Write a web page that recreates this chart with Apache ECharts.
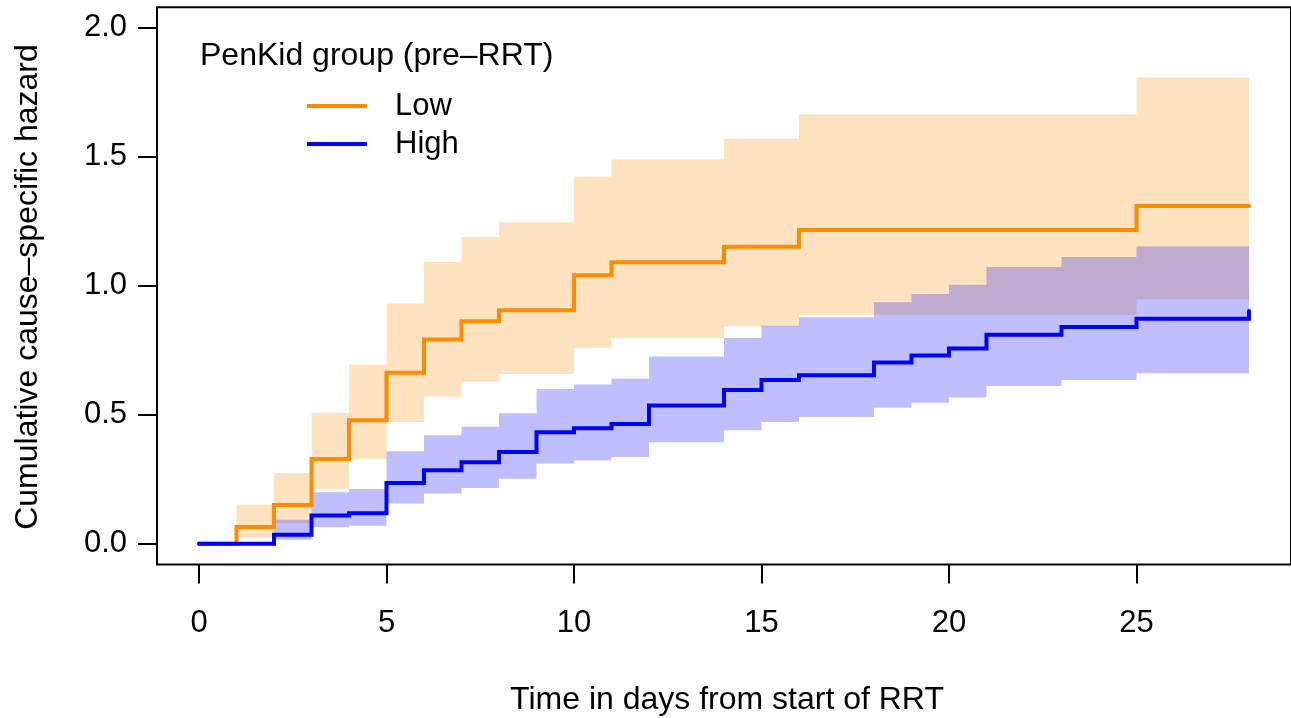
<!DOCTYPE html>
<html><head><meta charset="utf-8">
<script src="https://cdn.jsdelivr.net/npm/echarts@6/dist/echarts.min.js"></script>
<style>html,body{margin:0;padding:0;background:#fff}#c{width:1291px;height:718px}</style>
</head><body><div id="c"></div>
<script>
// Low PenKid group: event times, estimate, CI bounds
const lowTimes = [0, 1, 2, 3, 4, 5, 6, 7, 8, 10, 11, 14, 16, 25, 28];
const lowEst   = [0, 0.065, 0.151, 0.329, 0.479, 0.663, 0.792, 0.863, 0.906, 1.041, 1.092, 1.152, 1.217, 1.310, 1.310];
const lowUpper = [0, 0.153, 0.275, 0.507, 0.695, 0.932, 1.093, 1.190, 1.247, 1.424, 1.490, 1.570, 1.664, 1.808, 1.808];
const lowLower = [0, 0.026, 0.080, 0.213, 0.329, 0.472, 0.571, 0.628, 0.658, 0.760, 0.798, 0.843, 0.888, 0.948, 0.948];

// High PenKid group
const highTimes = [0, 2, 3, 4, 5, 6, 7, 8, 9, 10, 11, 12, 14, 15, 16, 18, 19, 20, 21, 23, 25, 28];
const highEst   = [0, 0.035, 0.110, 0.119, 0.236, 0.285, 0.316, 0.356, 0.433, 0.448, 0.465, 0.536, 0.596, 0.635, 0.654, 0.703, 0.730, 0.757, 0.811, 0.841, 0.873, 0.903];
const highUpper = [0, 0.093, 0.200, 0.213, 0.359, 0.421, 0.454, 0.506, 0.600, 0.618, 0.640, 0.726, 0.798, 0.846, 0.878, 0.937, 0.969, 1.004, 1.073, 1.112, 1.153, 1.153];
const highLower = [0, 0.016, 0.064, 0.070, 0.156, 0.195, 0.217, 0.252, 0.312, 0.323, 0.337, 0.394, 0.440, 0.472, 0.492, 0.528, 0.547, 0.567, 0.612, 0.635, 0.661, 0.661];

const xTicks = [0, 5, 10, 15, 20, 25];
const yTicks = [0, 0.5, 1.0, 1.5, 2.0];

const groupNames = ['Low', 'High'];
const legendTitle = 'PenKid group (pre\u2013RRT)';
const xTitle = 'Time in days from start of RRT';
const yTitle = 'Cumulative cause\u2013specific hazard';

const FONT = "'Liberation Sans', Arial, Helvetica, sans-serif";
const FS = 31;
const FT = 32;
const ORANGE = '#FF8C00';
const BLUE = '#0000FF';

const pairs = (t, v) => t.map((x, i) => [x, v[i]]);

// Confidence band drawn as one stepped polygon, every vertex placed through the axes (api.coord)
function band(name, t, up, lo, color) {
  return {
    name: name, type: 'custom', silent: true, z: 1,
    data: [[t[0], lo[0]]],
    encode: { x: 0, y: 1 },
    renderItem: function (params, api) {
      const pts = [];
      for (let i = 0; i < t.length - 1; i++) {
        pts.push(api.coord([t[i], up[i]]));
        pts.push(api.coord([t[i + 1], up[i]]));
      }
      for (let i = t.length - 2; i >= 0; i--) {
        pts.push(api.coord([t[i + 1], lo[i]]));
        pts.push(api.coord([t[i], lo[i]]));
      }
      return { type: 'polygon', shape: { points: pts }, style: { fill: color, stroke: null } };
    }
  };
}
function estLine(name, t, v, color) {
  return { name: name, type: 'line', step: 'end', symbol: 'none', color: color,
    data: pairs(t, v), lineStyle: { width: 4, color: color, cap: 'round', join: 'miter' }, z: 3 };
}

const chart = echarts.init(document.getElementById('c'), null, { renderer: 'canvas' });
chart.setOption({
  animation: false,
  backgroundColor: '#fff',
  textStyle: { fontFamily: FONT },
  grid: { left: 157, top: 7.3, width: 1137, height: 557.2, show: true,
          borderColor: '#000', borderWidth: 2, backgroundColor: 'transparent', containLabel: false },
  xAxis: {
    type: 'value', min: -1.12, max: 29.12,
    axisLine: { show: false, onZero: false },
    splitLine: { show: false },
    axisTick: { show: true, length: 19, inside: false, customValues: xTicks, lineStyle: { color: '#000', width: 2 } },
    axisLabel: { customValues: xTicks, margin: 43, fontSize: FS, color: '#000', fontFamily: FONT }
  },
  yAxis: {
    type: 'value', min: -0.08, max: 2.08,
    axisLine: { show: false, onZero: false },
    splitLine: { show: false },
    axisTick: { show: true, length: 19, inside: false, customValues: yTicks, lineStyle: { color: '#000', width: 2 } },
    axisLabel: { customValues: yTicks, margin: 30, fontSize: FS, color: '#000', fontFamily: FONT,
                 formatter: v => Number(v).toFixed(1) }
  },
  legend: {
    data: groupNames, orient: 'vertical', left: 307, top: 90.5, padding: 0,
    icon: 'rect', itemWidth: 60, itemHeight: 4, itemGap: 7,
    textStyle: { fontSize: FS, color: '#000', fontFamily: FONT, lineHeight: 31, padding: [0, 0, 0, 23] },
    selectedMode: false
  },
  graphic: [
    { type: 'text', left: 200, top: 40, silent: true,
      style: { text: legendTitle, font: FT + 'px ' + FONT, fill: '#000' } },
    { type: 'text', x: 727, y: 700, silent: true,
      style: { text: xTitle, font: FT + 'px ' + FONT, fill: '#000', align: 'center', verticalAlign: 'middle' } },
    { type: 'text', x: 28, y: 287, rotation: Math.PI / 2, silent: true,
      style: { text: yTitle, font: FT + 'px ' + FONT, fill: '#000', align: 'center', verticalAlign: 'middle' } }
  ],
  series: [
    band('lowBand', lowTimes, lowUpper, lowLower, 'rgba(255,140,0,0.25)'),
    band('highBand', highTimes, highUpper, highLower, 'rgba(0,0,255,0.25)'),
    estLine(groupNames[0], lowTimes, lowEst, ORANGE),
    estLine(groupNames[1], highTimes, highEst, BLUE)
  ]
});
</script>
</body></html>
